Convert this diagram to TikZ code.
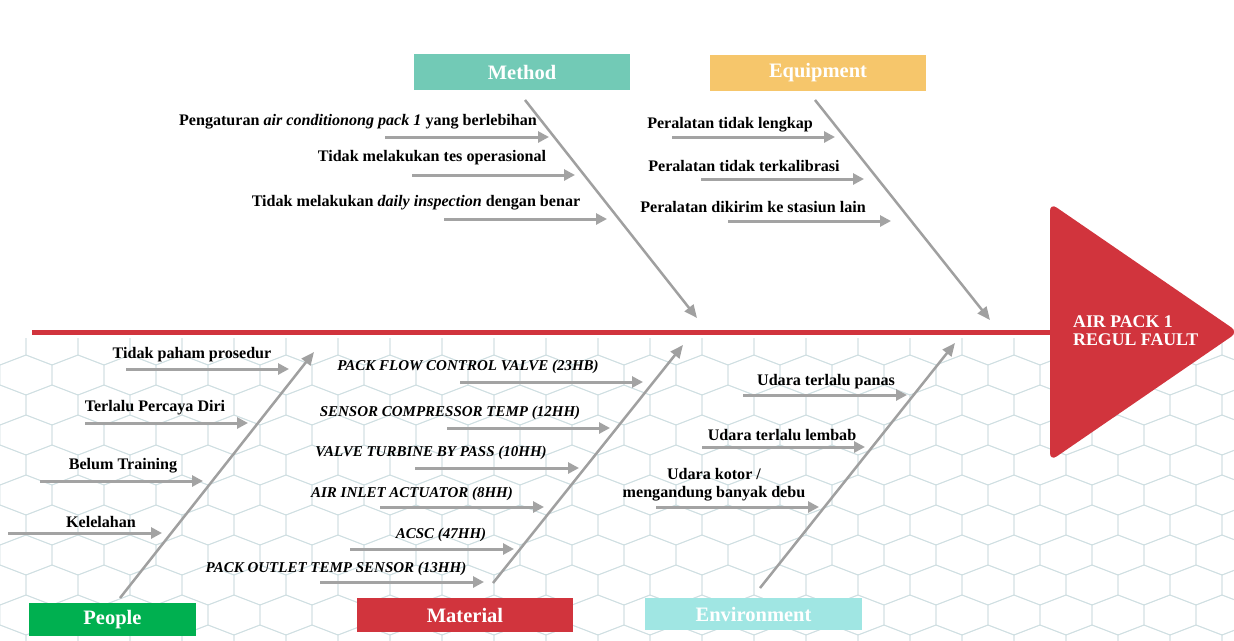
\documentclass[tikz,border=0pt]{standalone}
\usepackage{fontspec}
\setmainfont{Liberation Serif}
\usetikzlibrary{arrows.meta}
\definecolor{fbred}{HTML}{D1343D}
\definecolor{methodc}{HTML}{72CAB6}
\definecolor{equipc}{HTML}{F6C66B}
\definecolor{peoplec}{HTML}{00B050}
\definecolor{envc}{HTML}{A0E6E3}
\definecolor{arrowgray}{HTML}{A3A3A3}
\definecolor{bonegray}{HTML}{A0A0A0}
\definecolor{hexc}{HTML}{CFDFE2}
\tikzset{
  cat/.style={inner sep=0pt, text=white, font=\fontsize{20.5}{24}\selectfont\bfseries},
  lbl/.style={inner sep=0pt, text=black, font=\fontsize{16.1}{18}\selectfont\bfseries},
  mlbl/.style={inner sep=0pt, text=black, font=\fontsize{15}{18}\selectfont\bfseries\itshape},
  subarrow/.style={draw=arrowgray, line width=3pt, -{Triangle[length=11pt,width=11pt]}},
  bone/.style={draw=bonegray, line width=2.5pt, -{Triangle[length=13pt,width=11pt]}},
  hexline/.style={draw=hexc, line width=0.8pt},
}
\begin{document}
\begin{tikzpicture}[x=1pt,y=-1pt]
\useasboundingbox (0,0) rectangle (1234,640);
\fill[white] (0,0) rectangle (1234,640);
% background hex grid
\begin{scope}
\clip (0,338) rectangle (1234,640);
\foreach \r in {0,...,10} {
  \foreach \c in {0,...,24} {
    \pgfmathsetmacro\cx{\c*52 + mod(\r,2)*26}
    \pgfmathsetmacro\cy{345 + \r*30}
    \draw[hexline] (\cx,\cy-20) -- (\cx+26,\cy-10) -- (\cx+26,\cy+10) -- (\cx,\cy+20) -- (\cx-26,\cy+10) -- (\cx-26,\cy-10) -- cycle;
  }
}
\end{scope}
% head
\fill[fbred, rounded corners=8pt] (1050,203) -- (1238,332) -- (1050,461) -- cycle;
\coordinate (headL) at (1052,332);
\coordinate (spineL) at (32,332);
\draw[fbred, line width=5pt] (spineL) -- (headL);
\node[anchor=west, inner sep=0pt, text=white, align=left, font=\fontsize{17.8}{18}\selectfont\bfseries] (head) at (1073,331) {AIR PACK 1\\REGUL FAULT};
% category boxes
\node[cat, fill=methodc, minimum width=216pt, minimum height=36pt] (method) at (522,72) {Method};
\node[cat, fill=equipc, minimum width=216pt, minimum height=36pt] (equip) at (818,73) {Equipment};
\node[cat, fill=peoplec, minimum width=167pt, minimum height=33pt] (people) at (112.5,619.5) {People};
\node[cat, fill=fbred, minimum width=216pt, minimum height=34pt] (material) at (465,615) {Material};
\node[cat, fill=envc, minimum width=217pt, minimum height=32pt] (env) at (753.5,614) {Environment};
% bones
\coordinate (mbS) at (525,100); \coordinate (mbE) at (697,318);
\coordinate (ebS) at (815,100); \coordinate (ebE) at (990,320);
\coordinate (pbS) at (120,598); \coordinate (pbE) at (314,352);
\coordinate (tbS) at (493,583); \coordinate (tbE) at (683,345);
\coordinate (vbS) at (760,588); \coordinate (vbE) at (955,343);
\draw[bone] (mbS) -- (mbE);
\draw[bone] (ebS) -- (ebE);
\draw[bone] (pbS) -- (pbE);
\draw[bone] (tbS) -- (tbE);
\draw[bone] (vbS) -- (vbE);
% Method causes
\node[lbl] (m1) at (358,122) {Pengaturan \textit{air conditionong pack 1} yang berlebihan};
\node[lbl] (m2) at (432,158) {Tidak melakukan tes operasional};
\node[lbl] (m3) at (416,203) {Tidak melakukan \textit{daily inspection} dengan benar};
\coordinate (m1s) at (385,137); \coordinate (m1e) at (549,137);
\coordinate (m2s) at (412,175); \coordinate (m2e) at (575,175);
\coordinate (m3s) at (444,219); \coordinate (m3e) at (607,219);
\draw[subarrow] (m1s) -- (m1e);
\draw[subarrow] (m2s) -- (m2e);
\draw[subarrow] (m3s) -- (m3e);
% Equipment causes
\node[lbl] (e1) at (730,125) {Peralatan tidak lengkap};
\node[lbl] (e2) at (744,166) {Peralatan tidak terkalibrasi};
\node[lbl] (e3) at (753,207) {Peralatan dikirim ke stasiun lain};
\coordinate (e1s) at (672,137); \coordinate (e1e) at (835,137);
\coordinate (e2s) at (701,179); \coordinate (e2e) at (864,179);
\coordinate (e3s) at (728,221); \coordinate (e3e) at (891,221);
\draw[subarrow] (e1s) -- (e1e);
\draw[subarrow] (e2s) -- (e2e);
\draw[subarrow] (e3s) -- (e3e);
% People causes
\node[lbl] (p1) at (192,355) {Tidak paham prosedur};
\node[lbl] (p2) at (155,408) {Terlalu Percaya Diri};
\node[lbl] (p3) at (123,466) {Belum Training};
\node[lbl] (p4) at (101,522) {Kelelahan};
\coordinate (p1s) at (126,369); \coordinate (p1e) at (289,369);
\coordinate (p2s) at (85,423); \coordinate (p2e) at (248,423);
\coordinate (p3s) at (40,481); \coordinate (p3e) at (203,481);
\coordinate (p4s) at (8,533); \coordinate (p4e) at (162,533);
\draw[subarrow] (p1s) -- (p1e);
\draw[subarrow] (p2s) -- (p2e);
\draw[subarrow] (p3s) -- (p3e);
\draw[subarrow] (p4s) -- (p4e);
% Material causes
\node[mlbl] (t1) at (468,367) {PACK FLOW CONTROL VALVE (23HB)};
\node[mlbl] (t2) at (450,413) {SENSOR COMPRESSOR TEMP (12HH)};
\node[mlbl] (t3) at (431,453) {VALVE TURBINE BY PASS (10HH)};
\node[mlbl] (t4) at (412,494) {AIR INLET ACTUATOR (8HH)};
\node[mlbl] (t5) at (441,535) {ACSC (47HH)};
\node[mlbl] (t6) at (336,569) {PACK OUTLET TEMP SENSOR (13HH)};
\coordinate (t1s) at (460,382); \coordinate (t1e) at (643,382);
\coordinate (t2s) at (447,428); \coordinate (t2e) at (610,428);
\coordinate (t3s) at (415,468); \coordinate (t3e) at (579,468);
\coordinate (t4s) at (380,507); \coordinate (t4e) at (544,507);
\coordinate (t5s) at (350,549); \coordinate (t5e) at (514,549);
\coordinate (t6s) at (320,582); \coordinate (t6e) at (484,582);
\draw[subarrow] (t1s) -- (t1e);
\draw[subarrow] (t2s) -- (t2e);
\draw[subarrow] (t3s) -- (t3e);
\draw[subarrow] (t4s) -- (t4e);
\draw[subarrow] (t5s) -- (t5e);
\draw[subarrow] (t6s) -- (t6e);
% Environment causes
\node[lbl] (v1) at (826,382) {Udara terlalu panas};
\node[lbl] (v2) at (782,435) {Udara terlalu lembab};
\node[lbl, align=center] (v3) at (714,485) {Udara kotor /\\mengandung banyak debu};
\coordinate (v1s) at (743,395); \coordinate (v1e) at (907,395);
\coordinate (v2s) at (702,447); \coordinate (v2e) at (865,447);
\coordinate (v3s) at (656,507); \coordinate (v3e) at (819,507);
\draw[subarrow] (v1s) -- (v1e);
\draw[subarrow] (v2s) -- (v2e);
\draw[subarrow] (v3s) -- (v3e);
\end{tikzpicture}
\end{document}
